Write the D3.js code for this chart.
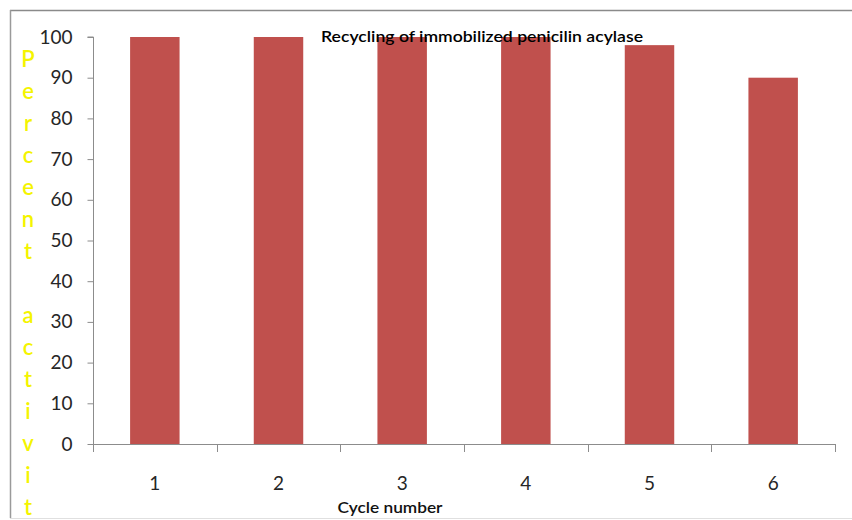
<!DOCTYPE html>
<html>
<head>
<meta charset="utf-8">
<script src="https://cdn.jsdelivr.net/npm/d3@7"></script>
<style>
  html, body { margin: 0; padding: 0; background: #fff; }
  svg { display: block; }
</style>
</head>
<body>
<svg id="chart" width="852" height="520"></svg>
<script>
// Recycling data: percent activity retained after each cycle
const cycles = ["1", "2", "3", "4", "5", "6"];
const activity = [100, 100, 100, 100, 98, 90];
const yTicks = [0, 10, 20, 30, 40, 50, 60, 70, 80, 90, 100];
const titleText = "Recycling of immobilized penicilin acylase";
const xTitle = "Cycle number";
const yTitle = "Percent activit";

const svg = d3.select("#chart");
const W = 852, H = 520;
const plot = { left: 93, right: 835, top: 37, bottom: 444 };
const font = "Lato, 'Open Sans', 'DejaVu Sans', sans-serif";

// frame lines
svg.append("line").attr("x1", 10).attr("x2", W).attr("y1", 10.5).attr("y2", 10.5)
  .attr("stroke", "#8a8a8a").attr("stroke-width", 1.5);
svg.append("line").attr("x1", 10.5).attr("x2", 10.5).attr("y1", 10).attr("y2", 518)
  .attr("stroke", "#9a9a9a").attr("stroke-width", 1.5);
svg.append("line").attr("x1", 10).attr("x2", W).attr("y1", 518.5).attr("y2", 518.5)
  .attr("stroke", "#e0e0e0").attr("stroke-width", 1);

const x = d3.scaleBand().domain(cycles).range([plot.left, plot.right]).paddingInner(0.6).paddingOuter(0.3);
const xEdges = d3.scaleLinear().domain([0, cycles.length]).range([plot.left, plot.right]);
const y = d3.scaleLinear().domain([0, 100]).range([plot.bottom, plot.top]);

// bars
svg.append("g").selectAll("rect").data(cycles).join("rect")
  .attr("x", d => x(d))
  .attr("width", x.bandwidth())
  .attr("y", (d, i) => y(activity[i]))
  .attr("height", (d, i) => y(0) - y(activity[i]))
  .attr("fill", "#c0504d");

// y axis
const yAxis = d3.axisLeft(y).tickValues(yTicks).tickSize(6).tickPadding(15);
const gy = svg.append("g").attr("transform", `translate(${plot.left + 0.5},0)`).call(yAxis);
gy.select(".domain").attr("stroke", "#8c8c8c").attr("d", `M-6,${plot.top}H0V${plot.bottom}`);
gy.selectAll(".tick line").attr("stroke", "#8c8c8c");
gy.selectAll(".tick text").attr("fill", "#262626")
  .style("font-family", font).style("font-size", "19px");

// x axis: baseline with ticks at category boundaries
const gx = svg.append("g");
gx.append("line").attr("x1", plot.left).attr("x2", plot.right)
  .attr("y1", plot.bottom + 0.5).attr("y2", plot.bottom + 0.5).attr("stroke", "#8c8c8c");
gx.selectAll("line.tk").data(d3.range(cycles.length + 1)).join("line").attr("class", "tk")
  .attr("x1", d => Math.round(xEdges(d)) + 0.5).attr("x2", d => Math.round(xEdges(d)) + 0.5)
  .attr("y1", plot.bottom).attr("y2", plot.bottom + 8).attr("stroke", "#8c8c8c");
gx.selectAll("text").data(cycles).join("text")
  .attr("x", d => x(d) + x.bandwidth() / 2)
  .attr("y", 490)
  .attr("text-anchor", "middle")
  .attr("fill", "#262626")
  .style("font-family", font).style("font-size", "19px")
  .text(d => d);

// title
svg.append("text").attr("x", 482).attr("y", 42).attr("text-anchor", "middle")
  .attr("fill", "#000")
  .attr("textLength", 322).attr("lengthAdjust", "spacingAndGlyphs")
  .style("font-family", font).style("font-size", "15px").style("font-weight", "600")
  .text(titleText);

// x axis title
svg.append("text").attr("x", 390).attr("y", 513).attr("text-anchor", "middle")
  .attr("fill", "#111")
  .attr("textLength", 105).attr("lengthAdjust", "spacingAndGlyphs")
  .style("font-family", font).style("font-size", "15.5px").style("font-weight", "600")
  .text(xTitle);

// y axis title, stacked one letter per line
const yl = svg.append("text").attr("fill", "#f4f400")
  .style("font-family", font).style("font-size", "22px").style("font-weight", "600")
  .attr("text-anchor", "middle");
yl.selectAll("tspan").data(yTitle.split("")).join("tspan")
  .attr("x", 28)
  .attr("y", (d, i) => 67 + i * 32)
  .text(d => d === " " ? "\u00a0" : d);
</script>
</body>
</html>
